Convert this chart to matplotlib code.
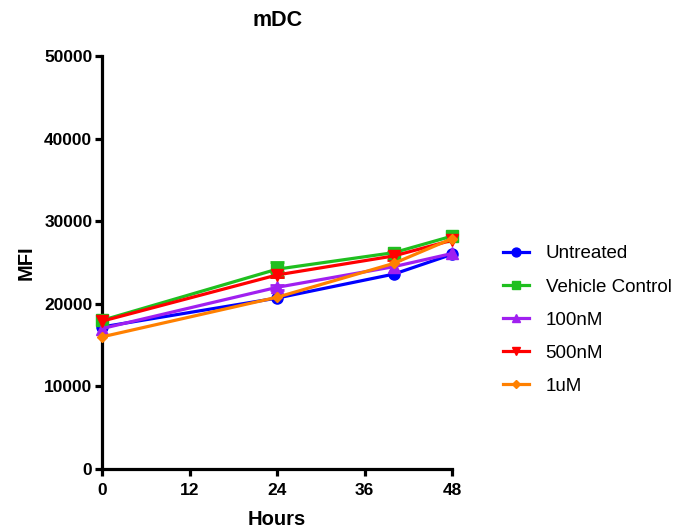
import matplotlib
matplotlib.use('Agg')
import matplotlib.pyplot as plt
import numpy as np

plt.rcParams['font.family'] = ['Liberation Sans', 'DejaVu Sans']

hours = [0, 24, 40, 48]
groups = ['Untreated', 'Vehicle Control', '100nM', '500nM', '1uM']
untreated = [17200, 20700, 23600, 26000]
vehicle = [18000, 24200, 26200, 28200]
nm100 = [17000, 22000, 24500, 26100]
nm500 = [17900, 23500, 25800, 27700]
um1 = [16000, 20800, 24900, 27900]
# SEM, 0 where the bar hides behind the marker
err_untreated = [0, 0, 0, 0]
err_vehicle = [0, 900, 0, 0]
err_100 = [0, 300, 0, 0]
err_500 = [0, 300, 500, 0]
err_1 = [0, 0, 0, 0]

series = [untreated, vehicle, nm100, nm500, um1]
errors = [err_untreated, err_vehicle, err_100, err_500, err_1]
colors = ['#0000ff', '#1fbf1f', '#a020f0', '#ff0000', '#ff8000']
markers = ['o', 's', '^', 'v', 'D']
msizes = [8, 8, 8, 8, 5.5]

fig = plt.figure(figsize=(6.8, 5.29), dpi=100)
ax = fig.add_axes([0.15, 0.1134, 0.515, 0.7806])

for vals, err, c, m, ms, name in zip(series, errors, colors, markers, msizes, groups):
    ax.plot(hours, vals, color=c, marker=m, markersize=ms, linewidth=2.3,
            label=name, clip_on=False, zorder=3)
    idx = [i for i, e in enumerate(err) if e > 0]
    if idx:
        ax.errorbar([hours[i] for i in idx], [vals[i] for i in idx],
                    yerr=[err[i] for i in idx], fmt='none', ecolor=c,
                    elinewidth=2, capsize=5, capthick=2, zorder=2)

ax.set_xlim(0, 48)
ax.set_ylim(0, 50000)
ax.set_xticks([0, 12, 24, 36, 48])
ax.set_yticks([0, 10000, 20000, 30000, 40000, 50000])
for s in ['top', 'right']:
    ax.spines[s].set_visible(False)
for s in ['left', 'bottom']:
    ax.spines[s].set_linewidth(2.3)
ax.tick_params(width=2.3, length=5, labelsize=12.5)
ax.tick_params(axis='x', pad=5)
ax.tick_params(axis='y', pad=2)
for lab in ax.get_xticklabels() + ax.get_yticklabels():
    lab.set_fontweight('bold')

ax.set_xlabel('Hours', fontsize=14.5, fontweight='bold', labelpad=9)
ax.set_ylabel('MFI', fontsize=14.5, fontweight='bold', labelpad=6)
ax.set_title('mDC', fontsize=15.5, fontweight='bold', pad=22)

handles, labels = ax.get_legend_handles_labels()
fig.legend(handles, labels, loc='center left', bbox_to_anchor=(0.728, 1 - 320 / 529),
           frameon=False, fontsize=13.5, labelspacing=0.85, handlelength=1.4,
           handletextpad=0.9, borderaxespad=0, markerscale=0.8)

fig.savefig('out.png', dpi=100)
